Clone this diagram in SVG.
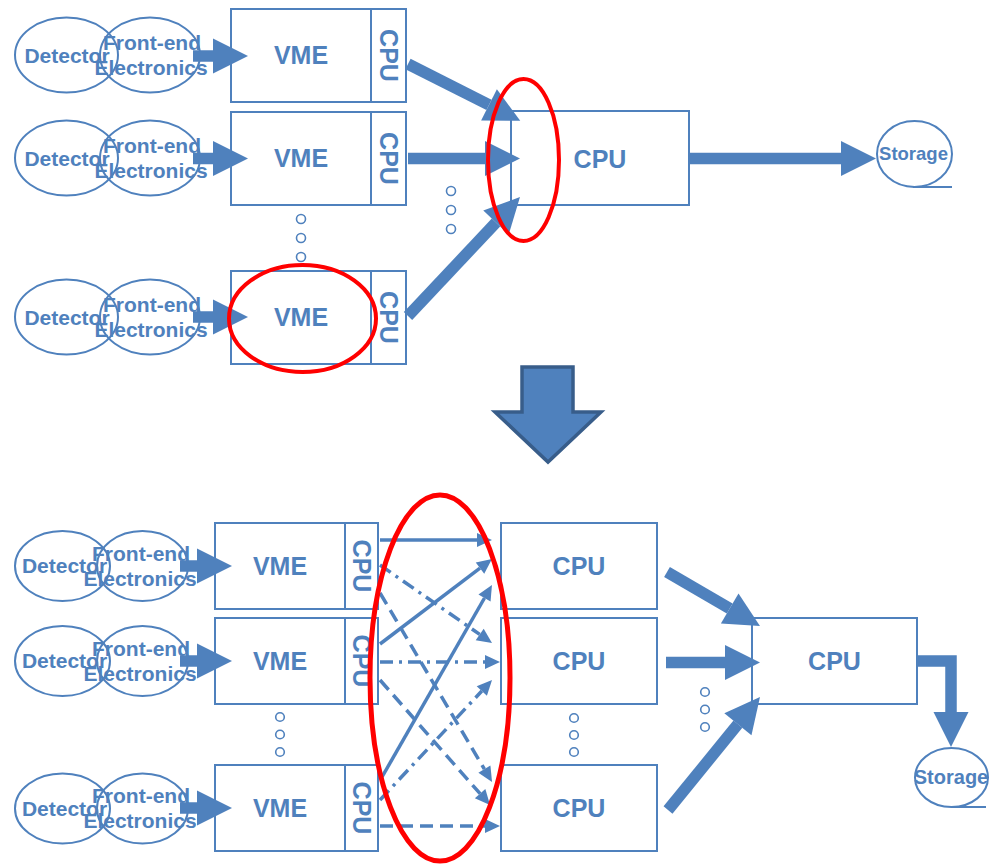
<svg xmlns="http://www.w3.org/2000/svg" width="996" height="865" viewBox="0 0 996 865">
<style>
.box{fill:#fff;stroke:#4F81BD;stroke-width:2}
.ell{fill:none;stroke:#4F81BD;stroke-width:2}
.t{font-family:"Liberation Sans",Arial,sans-serif;font-weight:bold;fill:#4F81BD;text-anchor:middle}
.s21{font-size:21px}.s25{font-size:25px}
.thick{stroke:#4F81BD;stroke-width:11.5;fill:none;marker-end:url(#big)}
.thin{stroke:#4F81BD;stroke-width:3.5;fill:none;marker-end:url(#small)}
.dash{stroke-dasharray:13 7}
.dashdot{stroke-dasharray:13 6 3 6}
.dot{fill:#fff;stroke:#4F81BD;stroke-width:1.6}
.red{fill:none;stroke:#FF0000}
</style>
<defs>
<marker id="big" markerUnits="userSpaceOnUse" markerWidth="40" markerHeight="40" refX="0" refY="17.5" orient="auto" overflow="visible"><path d="M0,0 L35,17.5 L0,35 z" fill="#4F81BD"/></marker>
<marker id="small" markerUnits="userSpaceOnUse" markerWidth="20" markerHeight="20" refX="0" refY="7" orient="auto" overflow="visible"><path d="M0,0 L15,7 L0,14 z" fill="#4F81BD"/></marker>
</defs>

<!-- TOP SECTION -->
<g id="top-row1">
<ellipse class="ell" cx="66.5" cy="55" rx="51.5" ry="37.5"/>
<ellipse class="ell" cx="150" cy="55" rx="50" ry="37.5"/>
<text class="t s21" x="67" y="63">Detector</text>
<text class="t s21" x="152" y="50">Front-end</text>
<text class="t s21" x="151" y="75">Electronics</text>
<rect class="box" x="231" y="9" width="140" height="93"/>
<rect class="box" x="371" y="9" width="35" height="93"/>
<text class="t s25" x="301" y="64">VME</text>
<text class="t s25" transform="translate(388.5,55.5) rotate(90)" x="0" y="9">CPU</text>
</g>
<g id="top-row2">
<ellipse class="ell" cx="66.5" cy="158" rx="51.5" ry="37.5"/>
<ellipse class="ell" cx="150" cy="158" rx="50" ry="37.5"/>
<text class="t s21" x="67" y="166">Detector</text>
<text class="t s21" x="152" y="153">Front-end</text>
<text class="t s21" x="151" y="178">Electronics</text>
<rect class="box" x="231" y="112" width="140" height="93"/>
<rect class="box" x="371" y="112" width="35" height="93"/>
<text class="t s25" x="301" y="167">VME</text>
<text class="t s25" transform="translate(388.5,158.5) rotate(90)" x="0" y="9">CPU</text>
</g>
<g id="top-row3">
<ellipse class="ell" cx="66.5" cy="317" rx="51.5" ry="37.5"/>
<ellipse class="ell" cx="150" cy="317" rx="50" ry="37.5"/>
<text class="t s21" x="67" y="325">Detector</text>
<text class="t s21" x="152" y="312">Front-end</text>
<text class="t s21" x="151" y="337">Electronics</text>
<rect class="box" x="231" y="271" width="140" height="93"/>
<rect class="box" x="371" y="271" width="35" height="93"/>
<text class="t s25" x="301" y="326">VME</text>
<text class="t s25" transform="translate(388.5,317.5) rotate(90)" x="0" y="9">CPU</text>
</g>
<g id="top-cpu">
<rect class="box" x="511" y="111" width="178" height="94"/>
<text class="t s25" x="600" y="168">CPU</text>
</g>
<g id="top-storage">
<ellipse class="ell" cx="914.5" cy="154" rx="37.5" ry="33"/>
<line x1="913" y1="187" x2="952" y2="187" stroke="#4F81BD" stroke-width="2"/>
<text class="t" style="font-size:18.5px" x="913.5" y="160">Storage</text>
</g>
<g id="top-dots">
<circle class="dot" cx="301" cy="219" r="4.5"/>
<circle class="dot" cx="301" cy="238" r="4.5"/>
<circle class="dot" cx="301" cy="257" r="4.5"/>
<circle class="dot" cx="451" cy="191" r="4.5"/>
<circle class="dot" cx="451" cy="210" r="4.5"/>
<circle class="dot" cx="451" cy="229" r="4.5"/>
</g>
<g id="top-connectors">
<line class="thick" x1="193" y1="56" x2="213" y2="56"/>
<line class="thick" x1="193" y1="158.5" x2="213" y2="158.5"/>
<line class="thick" x1="193" y1="317" x2="213" y2="317"/>
<line class="thick" x1="408" y1="64" x2="489" y2="104.9"/>
<line class="thick" x1="408" y1="158.5" x2="485" y2="158.5"/>
<line class="thick" x1="408" y1="316" x2="496" y2="222.5"/>
<line class="thick" x1="689" y1="158.5" x2="841" y2="158.5"/>
</g>
<g id="top-highlights">
<ellipse class="red" cx="302.5" cy="318.5" rx="73.5" ry="53.5" stroke-width="4"/>
<ellipse class="red" cx="523.5" cy="160" rx="35.5" ry="81" stroke-width="4"/>
</g>

<!-- TRANSITION ARROW -->
<g id="down-arrow">
<polygon points="522,367 573,367 573,412 601,412 548,462 495,412 522,412" fill="#4F81BD" stroke="#385D8A" stroke-width="3.5" stroke-linejoin="miter"/>
</g>

<!-- BOTTOM SECTION -->
<g id="bot-rowA">
<ellipse class="ell" cx="62.5" cy="566" rx="47.5" ry="35"/>
<ellipse class="ell" cx="142.5" cy="566" rx="45.5" ry="35"/>
<text class="t s21" x="64.5" y="573">Detector</text>
<text class="t s21" x="141" y="561">Front-end</text>
<text class="t s21" x="140" y="586">Electronics</text>
<rect class="box" x="215" y="523" width="130" height="86"/>
<rect class="box" x="345" y="523" width="33" height="86"/>
<text class="t s25" x="280" y="575">VME</text>
<text class="t s25" transform="translate(361.5,566) rotate(90)" x="0" y="9">CPU</text>
</g>
<g id="bot-rowB">
<ellipse class="ell" cx="62.5" cy="661" rx="47.5" ry="35"/>
<ellipse class="ell" cx="142.5" cy="661" rx="45.5" ry="35"/>
<text class="t s21" x="64.5" y="668">Detector</text>
<text class="t s21" x="141" y="656">Front-end</text>
<text class="t s21" x="140" y="681">Electronics</text>
<rect class="box" x="215" y="618" width="130" height="86"/>
<rect class="box" x="345" y="618" width="33" height="86"/>
<text class="t s25" x="280" y="670">VME</text>
<text class="t s25" transform="translate(361.5,661) rotate(90)" x="0" y="9">CPU</text>
</g>
<g id="bot-rowC">
<ellipse class="ell" cx="62.5" cy="808.5" rx="47.5" ry="35"/>
<ellipse class="ell" cx="142.5" cy="808.5" rx="45.5" ry="35"/>
<text class="t s21" x="64.5" y="816">Detector</text>
<text class="t s21" x="141" y="803">Front-end</text>
<text class="t s21" x="140" y="828">Electronics</text>
<rect class="box" x="215" y="765" width="130" height="86"/>
<rect class="box" x="345" y="765" width="33" height="86"/>
<text class="t s25" x="280" y="817">VME</text>
<text class="t s25" transform="translate(361.5,808) rotate(90)" x="0" y="9">CPU</text>
</g>
<g id="bot-cpuA">
<rect class="box" x="501" y="523" width="156" height="86"/>
<text class="t s25" x="579" y="575">CPU</text>
</g>
<g id="bot-cpuB">
<rect class="box" x="501" y="618" width="156" height="86"/>
<text class="t s25" x="579" y="670">CPU</text>
</g>
<g id="bot-cpuC">
<rect class="box" x="501" y="765" width="156" height="86"/>
<text class="t s25" x="579" y="817">CPU</text>
</g>
<g id="bot-cpu-final">
<rect class="box" x="752" y="618" width="165" height="86"/>
<text class="t s25" x="834.5" y="670">CPU</text>
</g>
<g id="bot-storage">
<ellipse class="ell" cx="951.5" cy="777.5" rx="36.5" ry="29.5"/>
<line x1="951" y1="807" x2="986" y2="807" stroke="#4F81BD" stroke-width="2"/>
<text class="t" style="font-size:20px" x="951" y="784">Storage</text>
</g>
<g id="bot-dots">
<circle class="dot" cx="280" cy="717" r="4.3"/>
<circle class="dot" cx="280" cy="734.5" r="4.3"/>
<circle class="dot" cx="280" cy="752" r="4.3"/>
<circle class="dot" cx="574" cy="718" r="4.3"/>
<circle class="dot" cx="574" cy="735" r="4.3"/>
<circle class="dot" cx="574" cy="752" r="4.3"/>
<circle class="dot" cx="705" cy="692" r="4.3"/>
<circle class="dot" cx="705" cy="709.5" r="4.3"/>
<circle class="dot" cx="705" cy="727" r="4.3"/>
</g>
<g id="bot-connectors">
<line class="thick" x1="180" y1="566" x2="197" y2="566"/>
<line class="thick" x1="180" y1="661" x2="197" y2="661"/>
<line class="thick" x1="180" y1="808" x2="197" y2="808"/>
<!-- to CPU A (solid) -->
<line class="thin" x1="380" y1="540" x2="477" y2="540"/>
<line class="thin" x1="380" y1="644" x2="480" y2="568.1"/>
<line class="thin" x1="382" y1="777" x2="484.5" y2="598"/>
<!-- to CPU B (dash-dot) -->
<line class="thin dashdot" x1="380" y1="565" x2="479.7" y2="634.4"/>
<line class="thin dashdot" x1="380" y1="662" x2="485" y2="662"/>
<line class="thin dashdot" x1="380" y1="800" x2="481.8" y2="691"/>
<!-- to CPU C (dashed) -->
<line class="thin dash" x1="380" y1="593" x2="484.4" y2="769.1"/>
<line class="thin dash" x1="380" y1="680" x2="480.1" y2="793.7"/>
<line class="thin dash" x1="380" y1="826" x2="485" y2="826"/>
<!-- to final CPU -->
<line class="thick" x1="667" y1="572" x2="729.7" y2="608.5"/>
<line class="thick" x1="666" y1="662.5" x2="725" y2="662.5"/>
<line class="thick" x1="668" y1="810" x2="737.9" y2="724.2"/>
<polyline class="thick" points="917,661 951,661 951,712" stroke-linejoin="miter"/>
</g>
<g id="bot-highlight">
<ellipse class="red" cx="440" cy="678" rx="70" ry="183" stroke-width="5"/>
</g>
</svg>
